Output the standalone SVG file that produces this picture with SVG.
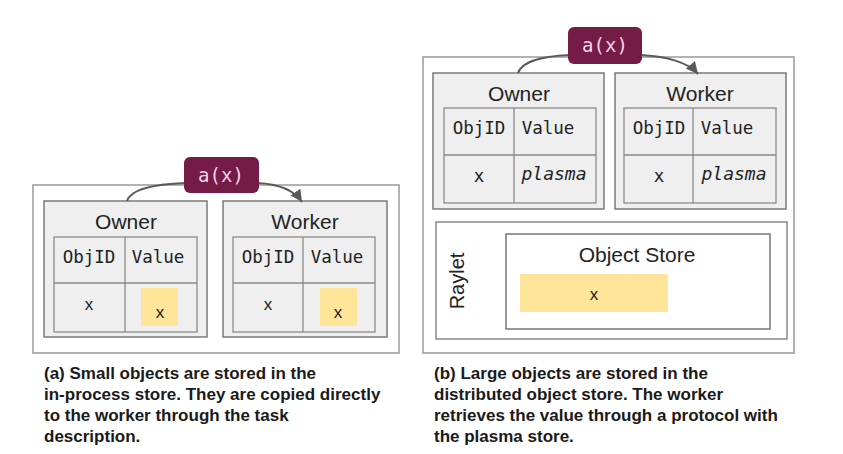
<svg xmlns="http://www.w3.org/2000/svg" width="843" height="454" viewBox="0 0 843 454">
<defs>
<style>
.outer{fill:#fff;stroke:#9a9a9a;stroke-width:1.5}
.proc{fill:#efefef;stroke:#7a7a7a;stroke-width:1.5}
.tbl{fill:#efefef;stroke:#8a8a8a;stroke-width:1.3}
.grid{stroke:#8a8a8a;stroke-width:1.3}
.yel{fill:#ffe599}
.title{font-family:"Liberation Sans",Arial,sans-serif;font-size:21px;fill:#222;text-anchor:middle}
.mono{font-family:"DejaVu Sans Mono","Liberation Mono",monospace;font-size:17.5px;fill:#222;text-anchor:middle}
.ital{font-style:italic;font-size:18px}
.lbl{fill:#741b47}
.lbltxt{font-family:"DejaVu Sans Mono","Liberation Mono",monospace;font-size:19px;fill:#f4d6e3;text-anchor:middle}
.x{font-family:"Liberation Sans",Arial,sans-serif;font-size:17px;fill:#222;text-anchor:middle}
.cap{font-family:"Liberation Sans",Arial,sans-serif;font-size:17px;font-weight:bold;fill:#1a1a1a}
.conn{fill:none;stroke:#595959;stroke-width:2}
</style>
<marker id="arr" markerUnits="userSpaceOnUse" markerWidth="14" markerHeight="12" refX="12" refY="6" orient="auto">
<path d="M0,0 L12,6 L0,12 z" fill="#595959"/>
</marker>
</defs>

<!-- Panel (a) -->
<g id="panel-a">
<rect class="outer" x="33" y="185" width="366" height="168"/>
</g>
<g id="a-owner">
<rect class="proc" x="44" y="201" width="163" height="136"/>
<text class="title" x="126" y="229">Owner</text>
<rect class="tbl" x="54" y="237" width="143" height="95"/>
<line class="grid" x1="125" y1="237" x2="125" y2="332"/>
<line class="grid" x1="54" y1="283" x2="197" y2="283"/>
<text class="mono" x="89" y="263">ObjID</text>
<text class="mono" x="158" y="263">Value</text>
<text class="x" x="89" y="310">x</text>
<rect class="yel" x="141" y="288" width="37" height="38"/>
<text class="x" x="160" y="318">x</text>
</g>
<g id="a-worker">
<rect class="proc" x="223" y="201" width="164" height="136"/>
<text class="title" x="305" y="229">Worker</text>
<rect class="tbl" x="233" y="237" width="142" height="95"/>
<line class="grid" x1="303" y1="237" x2="303" y2="332"/>
<line class="grid" x1="233" y1="283" x2="375" y2="283"/>
<text class="mono" x="268" y="263">ObjID</text>
<text class="mono" x="337" y="263">Value</text>
<text class="x" x="268" y="310">x</text>
<rect class="yel" x="320" y="288" width="37" height="38"/>
<text class="x" x="338" y="318">x</text>
</g>

<!-- Panel (b) -->
<g id="panel-b">
<rect class="outer" x="423" y="57" width="371" height="296"/>
</g>
<g id="b-owner">
<rect class="proc" x="433" y="73" width="171" height="136"/>
<text class="title" x="519" y="101">Owner</text>
<rect class="tbl" x="444" y="108" width="152" height="95"/>
<line class="grid" x1="514" y1="108" x2="514" y2="203"/>
<line class="grid" x1="444" y1="155" x2="596" y2="155"/>
<text class="mono" x="479" y="134">ObjID</text>
<text class="mono" x="548" y="134">Value</text>
<text class="mono" x="479" y="182">x</text>
<text class="mono ital" x="554" y="180">plasma</text>
</g>
<g id="b-worker">
<rect class="proc" x="615" y="73" width="171" height="136"/>
<text class="title" x="700" y="101">Worker</text>
<rect class="tbl" x="624" y="108" width="152" height="95"/>
<line class="grid" x1="693" y1="108" x2="693" y2="203"/>
<line class="grid" x1="624" y1="155" x2="776" y2="155"/>
<text class="mono" x="659" y="134">ObjID</text>
<text class="mono" x="727" y="134">Value</text>
<text class="mono" x="659" y="182">x</text>
<text class="mono ital" x="734" y="180">plasma</text>
</g>
<g id="b-raylet">
<rect class="outer" x="436" y="222" width="351" height="117" style="stroke:#888"/>
<text class="title" x="0" y="0" transform="translate(464,281) rotate(-90)" style="font-size:20px">Raylet</text>
</g>
<g id="b-objectstore">
<rect class="outer" x="506" y="234" width="264" height="95" style="stroke:#777"/>
<text class="title" x="637" y="262">Object Store</text>
<rect class="yel" x="520" y="274" width="148" height="38"/>
<text class="x" x="594" y="300">x</text>
</g>

<!-- Connectors -->
<g id="connectors">
<path class="conn" d="M127,201 C131,189 155,184 186,183"/>
<path class="conn" d="M257,183 C280,184 294,190 302,202" marker-end="url(#arr)"/>
<path class="conn" d="M518,73 C522,61 545,56 570,55"/>
<path class="conn" d="M640,55 C665,56 688,62 698,74" marker-end="url(#arr)"/>
</g>

<!-- Task labels -->
<g id="a-task">
<rect class="lbl" x="184" y="157" width="75" height="36" rx="6"/>
<text class="lbltxt" x="221" y="182">a(x)</text>
</g>
<g id="b-task">
<rect class="lbl" x="568" y="27" width="74" height="37" rx="6"/>
<text class="lbltxt" x="605" y="52">a(x)</text>
</g>

<!-- Captions -->
<g id="caption-a">
<text class="cap" x="44" y="379">(a) Small objects are stored in the</text>
<text class="cap" x="44" y="400">in-process store. They are copied directly</text>
<text class="cap" x="44" y="421">to the worker through the task</text>
<text class="cap" x="44" y="442">description.</text>
</g>
<g id="caption-b">
<text class="cap" x="434" y="379">(b) Large objects are stored in the</text>
<text class="cap" x="434" y="400">distributed object store. The worker</text>
<text class="cap" x="434" y="421">retrieves the value through a protocol with</text>
<text class="cap" x="434" y="442">the plasma store.</text>
</g>
</svg>
